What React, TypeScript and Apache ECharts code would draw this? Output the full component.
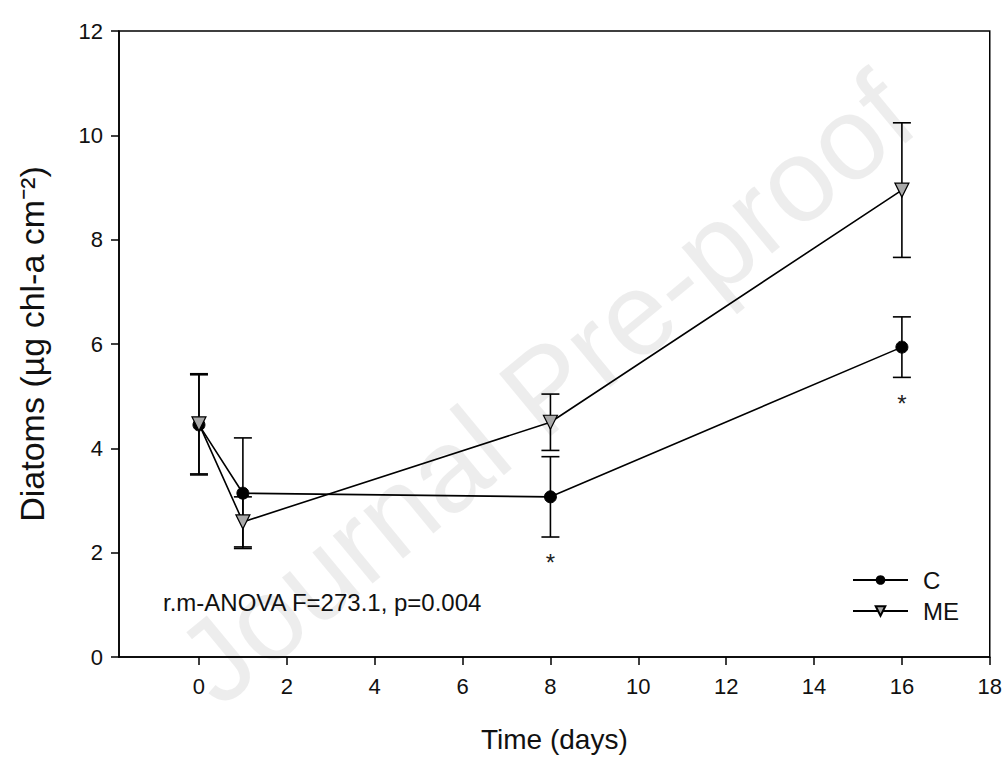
import React, { useEffect, useRef } from "react";
import * as echarts from "echarts";

const days = [0, 1, 8, 16];
const cMean = [4.45, 3.14, 3.07, 5.94];
const cErr = [0.96, 1.06, 0.77, 0.58];
const meMean = [4.47, 2.59, 4.5, 8.95];
const meErr = [0.96, 0.48, 0.54, 1.29];
const starDays = [8, 16];
const starValues = [1.9, 4.95];
const xTicks = [0, 2, 4, 6, 8, 10, 12, 14, 16, 18];
const annotation = "r.m-ANOVA F=273.1, p=0.004";
const FONT = "'Liberation Sans', Arial, sans-serif";

export default function App() {
  const ref = useRef<HTMLDivElement>(null);
  useEffect(() => {
    if (!ref.current) return;
    const chart = echarts.init(ref.current, null, { renderer: "svg" });
    const errData = (m: number[], e: number[]) => days.map((d, i) => [d, m[i] - e[i], m[i] + e[i]]);
    const errSeries = (name: string, data: number[][]) => ({
      type: "custom",
      name: name + "err",
      z: 1,
      silent: true,
      data,
      encode: { x: 0, y: [1, 2] },
      renderItem: (params: any, api: any) => {
        const x = api.value(0);
        const lo = api.coord([x, api.value(1)]);
        const hi = api.coord([x, api.value(2)]);
        const w = 9;
        const st = { stroke: "#000", lineWidth: 1.6 };
        return {
          type: "group",
          children: [
            { type: "line", shape: { x1: lo[0], y1: lo[1], x2: hi[0], y2: hi[1] }, style: st },
            { type: "line", shape: { x1: lo[0] - w, y1: lo[1], x2: lo[0] + w, y2: lo[1] }, style: st },
            { type: "line", shape: { x1: hi[0] - w, y1: hi[1], x2: hi[0] + w, y2: hi[1] }, style: st },
          ],
        };
      },
    });
    chart.setOption({
      animation: false,
      backgroundColor: "#fff",
      textStyle: { fontFamily: FONT },
      grid: { left: 119, right: 15, top: 31, bottom: 101, show: true, borderColor: "#000", borderWidth: 1.5, backgroundColor: "transparent" },
      xAxis: {
        type: "value",
        min: -1.82,
        max: 18,
        splitLine: { show: false },
        axisLine: { onZero: false, lineStyle: { color: "#000", width: 1.5 } },
        axisTick: { customValues: xTicks, length: 8, lineStyle: { color: "#000", width: 1.5 } },
        axisLabel: { customValues: xTicks, fontSize: 22, color: "#111", margin: 18, fontFamily: FONT },
        name: "Time (days)",
        nameLocation: "middle",
        nameGap: 68,
        nameTextStyle: { fontSize: 28, color: "#111", fontFamily: FONT },
      },
      yAxis: {
        type: "value",
        min: 0,
        max: 12,
        interval: 2,
        splitLine: { show: false },
        axisLine: { onZero: false, lineStyle: { color: "#000", width: 1.5 } },
        axisTick: { length: 8, lineStyle: { color: "#000", width: 1.5 } },
        axisLabel: { fontSize: 22, color: "#111", margin: 16, fontFamily: FONT },
        name: "Diatoms (µg chl-a cm⁻²)",
        nameLocation: "middle",
        nameRotate: 90,
        nameGap: 70,
        nameTextStyle: { fontSize: 34, color: "#111", fontFamily: FONT },
      },
      legend: {
        orient: "vertical",
        left: 847,
        top: 563,
        itemGap: 7,
        itemWidth: 55,
        itemHeight: 12,
        data: ["C", "ME"],
        textStyle: { fontSize: 24, color: "#111", lineHeight: 24, padding: [0, 0, 0, 10], fontFamily: FONT },
      },
      graphic: [
        {
          type: "text",
          z: -10,
          x: 545,
          y: 388,
          silent: true,
          rotation: 0.69,
          style: {
            text: "Journal Pre-proof",
            fontSize: 118,
            fontFamily: FONT,
            fill: "rgba(0,0,0,0.07)",
            align: "center",
            verticalAlign: "middle",
          },
        },
        {
          type: "text",
          left: 163,
          top: 590,
          style: { text: annotation, fontSize: 24, fill: "#111", fontFamily: FONT },
        },
      ],
      series: [
        errSeries("C", errData(cMean, cErr)),
        errSeries("ME", errData(meMean, meErr)),
        {
          type: "line",
          name: "C",
          z: 3,
          data: days.map((d, i) => [d, cMean[i]]),
          symbol: "circle",
          symbolSize: 12,
          lineStyle: { color: "#000", width: 1.6 },
          itemStyle: { color: "#000", borderColor: "#000" },
        },
        {
          type: "line",
          name: "ME",
          z: 4,
          data: days.map((d, i) => [d, meMean[i]]),
          symbol: "triangle",
          symbolRotate: 180,
          symbolSize: 14,
          lineStyle: { color: "#000", width: 1.6 },
          itemStyle: { color: "#a9a9a9", borderColor: "#000", borderWidth: 1.2 },
        },
        {
          type: "custom",
          name: "stars",
          silent: true,
          data: starDays.map((d, i) => [d, starValues[i]]),
          renderItem: (params: any, api: any) => {
            const p = api.coord([api.value(0), api.value(1)]);
            return {
              type: "text",
              x: p[0],
              y: p[1] + 5,
              style: { text: "*", fontSize: 24, fill: "#222", align: "center", verticalAlign: "middle", fontFamily: FONT },
            };
          },
        },
      ],
    });
    return () => chart.dispose();
  }, []);
  return <div ref={ref} style={{ position: "fixed", left: 0, top: 0, width: 1005, height: 758 }} />;
}
